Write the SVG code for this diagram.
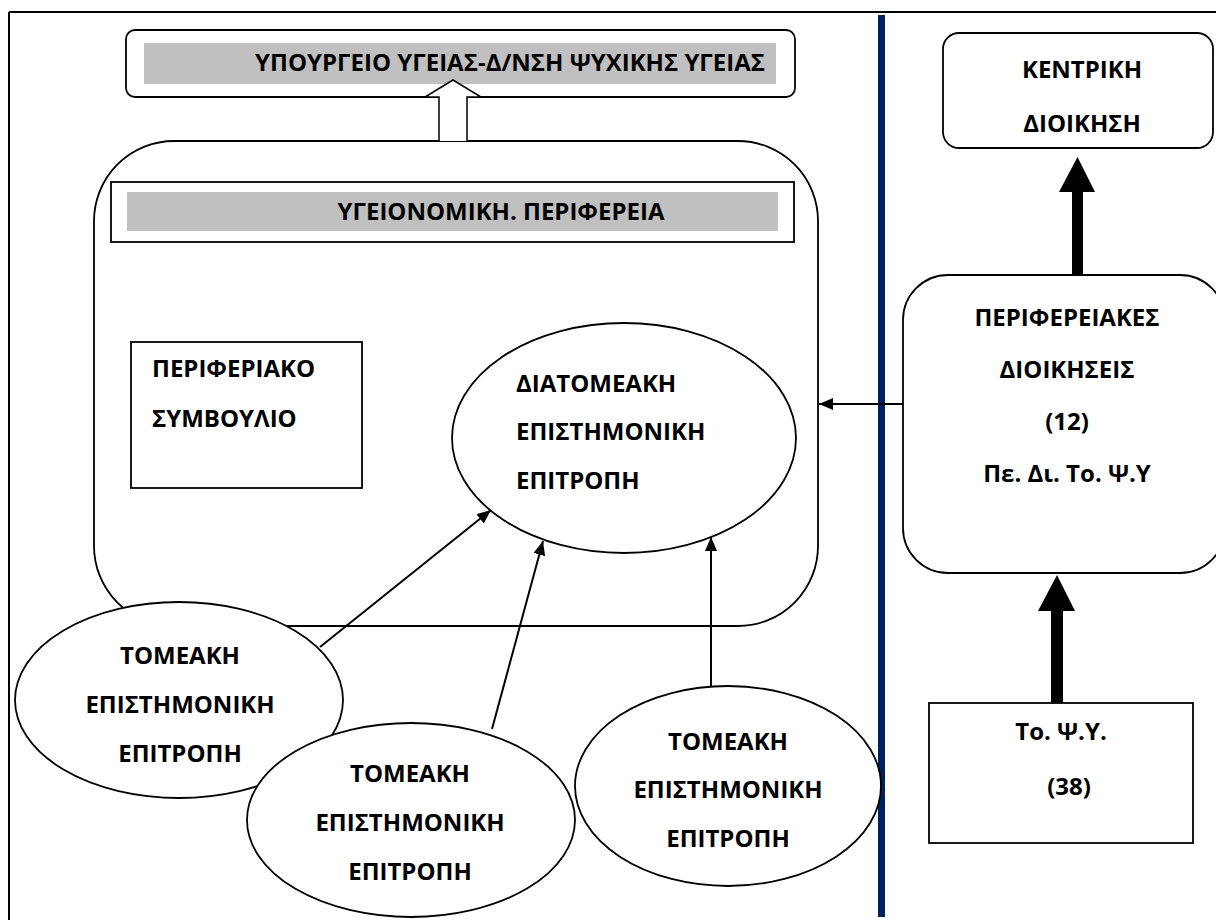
<svg xmlns="http://www.w3.org/2000/svg" width="1216" height="920" viewBox="0 0 1216 920">
<style>
  .t { font-family: "Open Sans", "Noto Sans", "DejaVu Sans", sans-serif; font-weight: bold; font-size: 24px; fill: #000; }
  .m { text-anchor: middle; }
  .box { fill: #fff; stroke: #000; stroke-width: 1.8; }
  .bar { fill: #c0c0c0; stroke: none; }
  .conn { stroke: #000; stroke-width: 2; fill: none; }
  .thick { fill: #000; stroke: none; }
</style>
<defs>
  <marker id="ah" viewBox="0 0 14 12" refX="14" refY="6" markerWidth="14" markerHeight="12" markerUnits="userSpaceOnUse" orient="auto">
    <path d="M0,0 L14,6 L0,12 Z" fill="#000"/>
  </marker>
</defs>
<rect width="1216" height="920" fill="#fff"/>
<g id="frame">
  <line x1="9" y1="12" x2="1216" y2="12" stroke="#000" stroke-width="2"/>
  <line x1="9" y1="12" x2="9" y2="920" stroke="#000" stroke-width="2"/>
  <line x1="881.5" y1="15" x2="881.5" y2="917" stroke="#002060" stroke-width="7"/>
</g>
<g id="ministry">
  <rect class="box" x="126" y="30" width="669" height="67" rx="9"/>
  <rect class="bar" x="144" y="43" width="632" height="41"/>
  <text class="t" x="765" y="71" text-anchor="end">ΥΠΟΥΡΓΕΙΟ ΥΓΕΙΑΣ-Δ/ΝΣΗ ΨΥΧΙΚΗΣ ΥΓΕΙΑΣ</text>
</g>
<g id="region">
  <rect class="box" x="94" y="141" width="724" height="485" rx="80"/>
  <rect class="box" x="111" y="182" width="683" height="60" rx="0"/>
  <rect class="bar" x="127" y="192" width="651" height="39"/>
  <text class="t m" x="501" y="220">ΥΓΕΙΟΝΟΜΙΚΗ. ΠΕΡΙΦΕΡΕΙΑ</text>
</g>
<g id="hollow-arrow">
  <path d="M439,141 L439,97 L425,97 L453,80 L481,97 L467,97 L467,141" fill="#fff" stroke="#000" stroke-width="1.5"/>
</g>
<g id="council">
  <rect class="box" x="131" y="342" width="231" height="146"/>
  <text class="t" x="152" y="377">ΠΕΡΙΦΕΡΙΑΚΟ</text>
  <text class="t" x="152" y="427">ΣΥΜΒΟΥΛΙΟ</text>
</g>
<g id="intersector">
  <ellipse class="box" cx="624" cy="438" rx="172" ry="115"/>
  <text class="t" x="516" y="392">ΔΙΑΤΟΜΕΑΚΗ</text>
  <text class="t" x="516" y="440">ΕΠΙΣΤΗΜΟΝΙΚΗ</text>
  <text class="t" x="516" y="489">ΕΠΙΤΡΟΠΗ</text>
</g>
<g id="sector1">
  <ellipse class="box" cx="179" cy="700" rx="164" ry="98"/>
  <text class="t m" x="180" y="664">ΤΟΜΕΑΚΗ</text>
  <text class="t m" x="180" y="713">ΕΠΙΣΤΗΜΟΝΙΚΗ</text>
  <text class="t m" x="180" y="762">ΕΠΙΤΡΟΠΗ</text>
</g>
<g id="sector2">
  <ellipse class="box" cx="411" cy="820" rx="164" ry="97"/>
  <text class="t m" x="410" y="782">ΤΟΜΕΑΚΗ</text>
  <text class="t m" x="410" y="831">ΕΠΙΣΤΗΜΟΝΙΚΗ</text>
  <text class="t m" x="410" y="880">ΕΠΙΤΡΟΠΗ</text>
</g>
<g id="sector3">
  <ellipse class="box" cx="728" cy="786" rx="153" ry="100"/>
  <text class="t m" x="728" y="750">ΤΟΜΕΑΚΗ</text>
  <text class="t m" x="728" y="798">ΕΠΙΣΤΗΜΟΝΙΚΗ</text>
  <text class="t m" x="728" y="847">ΕΠΙΤΡΟΠΗ</text>
</g>
<g id="central">
  <rect class="box" x="943" y="33" width="270" height="115" rx="16"/>
  <text class="t m" x="1082" y="78">ΚΕΝΤΡΙΚΗ</text>
  <text class="t m" x="1082" y="132">ΔΙΟΙΚΗΣΗ</text>
</g>
<g id="regional-admin">
  <rect class="box" x="903" y="275" width="322" height="298" rx="45"/>
  <text class="t m" x="1067" y="326">ΠΕΡΙΦΕΡΕΙΑΚΕΣ</text>
  <text class="t m" x="1067" y="378">ΔΙΟΙΚΗΣΕΙΣ</text>
  <text class="t m" x="1067" y="430">(12)</text>
  <text class="t m" x="1067" y="482">Πε. Δι. Το. Ψ.Υ</text>
</g>
<g id="topsy">
  <rect class="box" x="929" y="703" width="264" height="140"/>
  <text class="t m" x="1061" y="740">Το. Ψ.Υ.</text>
  <text class="t m" x="1069" y="795">(38)</text>
</g>
<g id="connectors">
  <line class="conn" x1="320" y1="647" x2="491" y2="510" marker-end="url(#ah)"/>
  <line class="conn" x1="492" y1="729" x2="543" y2="541" marker-end="url(#ah)"/>
  <line class="conn" x1="711" y1="687" x2="711" y2="537" marker-end="url(#ah)"/>
  <line class="conn" x1="903" y1="404" x2="819" y2="404" marker-end="url(#ah)"/>
  <rect class="thick" x="1072" y="190" width="11" height="85"/>
  <polygon class="thick" points="1059,192 1077.5,157 1095,192"/>
  <rect class="thick" x="1051" y="609" width="12" height="94"/>
  <polygon class="thick" points="1038,611 1057,575 1075,611"/>
</g>
</svg>
